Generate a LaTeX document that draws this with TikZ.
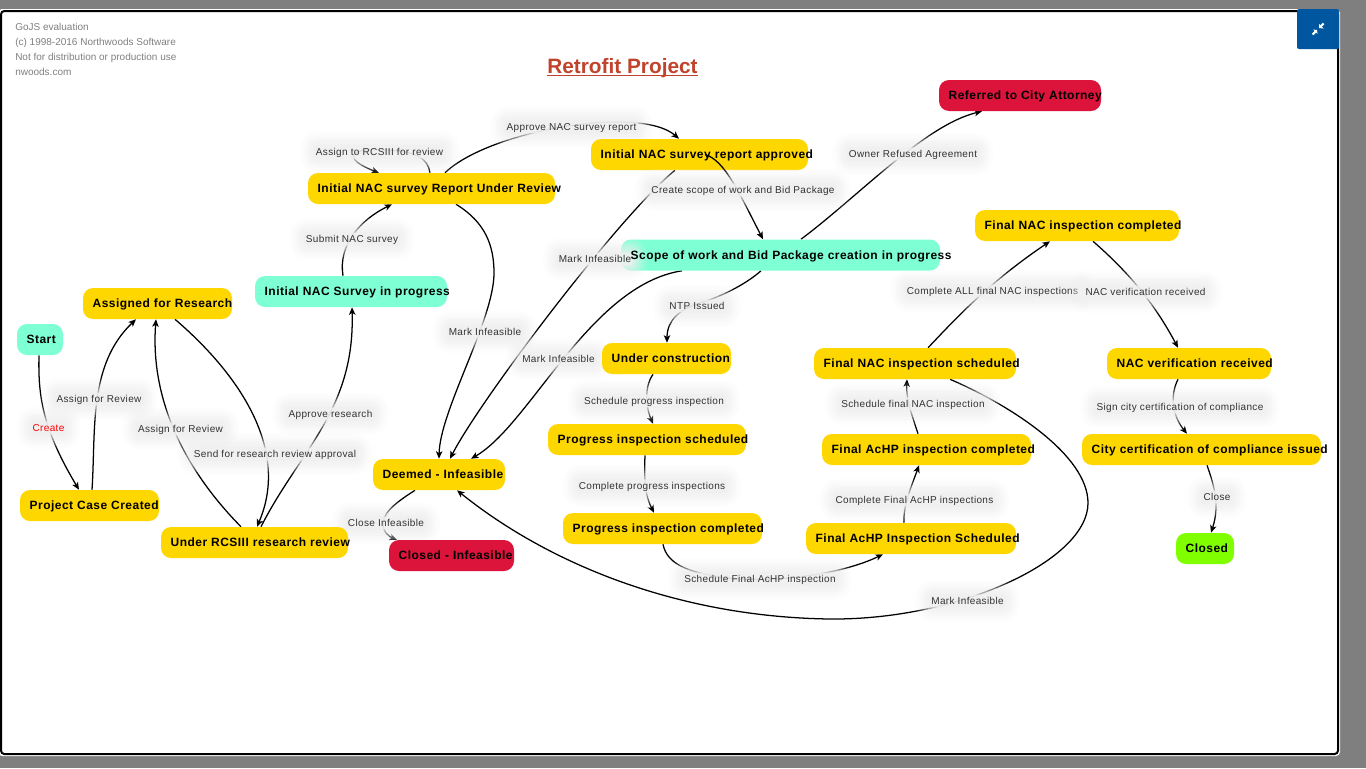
\documentclass[tikz,border=0pt]{standalone}
\usepackage{fontspec}
\setmainfont{Liberation Sans}
\newfontfamily\nodefam[LetterSpace=3.9]{Liberation Sans}
\newfontfamily\lblfam[LetterSpace=3.5]{Liberation Sans}
\usetikzlibrary{arrows.meta}
\pgfdeclarelayer{under}
\pgfsetlayers{under,main}
\definecolor{goldc}{HTML}{FFD700}
\definecolor{aquac}{HTML}{7FFFD4}
\definecolor{crimc}{HTML}{DC143C}
\definecolor{limec}{HTML}{7FFF00}
\definecolor{pagec}{HTML}{7F7F7F}
\definecolor{btnc}{HTML}{01579F}
\definecolor{titlec}{HTML}{C0432B}
\definecolor{markc}{HTML}{808080}
\definecolor{lblc}{HTML}{333333}
\definecolor{glowc}{HTML}{F0F0F0}
\newcommand{\nt}[1]{\leavevmode\hspace*{0.5pt}\rlap{#1}}
\newcommand{\thickul}[1]{\setbox0\hbox{#1}\rlap{\rule[-2.6pt]{\wd0}{1.3pt}}\box0}
\tikzset{
  statebox/.style={rounded corners=7.5pt,minimum height=31*0.75pt,inner sep=0pt,
    font=\nodefam\bfseries\fontsize{9}{10}\selectfont,text=black,
    text height=8pt,text depth=2pt,align=left,
    minimum width=#1*0.75pt,text width=(#1-18)*0.75pt},
  goldbox/.style={statebox=#1,fill=goldc},
  aquabox/.style={statebox=#1,fill=aquac},
  crimbox/.style={statebox=#1,fill=crimc},
  limebox/.style={statebox=#1,fill=limec},
  link/.style={draw=black,line width=0.95pt,-{Stealth[length=5.6pt,width=4.8pt,inset=1.4pt]}},
  gl/.style={fill=glowc,draw=glowc,opacity=#1,line join=round},
  edgelbl/.style={font=\lblfam\fontsize{7.5}{9}\selectfont,text=lblc,inner sep=1pt,
    text height=6.25pt,text depth=1pt,rounded corners=2pt,
    preaction={gl=0.12,line width=22pt},
    preaction={gl=0.15,line width=18pt},
    preaction={gl=0.2,line width=14pt},
    preaction={gl=0.25,line width=10pt},
    preaction={gl=0.3,line width=6pt},
    preaction={gl=0.4,line width=2pt}},
  markline/.style={font=\fontsize{7.5}{9}\selectfont,text=markc,anchor=west,inner sep=0pt,text height=6.25pt,text depth=1pt},
}
\begin{document}
\begin{tikzpicture}[x=0.75pt,y=-0.75pt]
\useasboundingbox (0,0) rectangle (1366,768);

% state nodes
\node[aquabox=46] (start) at (40,339.5) {\nt{Start}};
\node[goldbox=149] (assigned) at (157.5,303.5) {\nt{Assigned for Research}};
\node[goldbox=139] (project) at (89.5,505.5) {\nt{Project Case Created}};
\node[goldbox=187] (rcs) at (254.5,542.5) {\nt{Under RCSIII research review}};
\node[aquabox=192] (survey) at (351,291.5) {\nt{Initial NAC Survey in progress}};
\node[goldbox=247] (report) at (431.5,188.5) {\nt{Initial NAC survey Report Under Review}};
\node[goldbox=217] (approved) at (699.5,154.5) {\nt{Initial NAC survey report approved}};
\node[crimbox=162] (referred) at (1020,95.5) {\nt{Referred to City Attorney}};
\node[aquabox=319] (scope) at (780.5,255) {};
\node[edgelbl] (l10) at (595,259) {Mark Infeasible};
\node[statebox=319] (scopetext) at (scope.center) {\nt{Scope of work and Bid Package creation in progress}};
\node[goldbox=132] (deemed) at (439,474.5) {\nt{Deemed - Infeasible}};
\node[crimbox=125] (closedinf) at (451.5,555.5) {\nt{Closed - Infeasible}};
\node[goldbox=129] (under) at (666.5,358.5) {\nt{Under construction}};
\node[goldbox=198] (psched) at (647,439.5) {\nt{Progress inspection scheduled}};
\node[goldbox=199] (pcomp) at (662.5,528.5) {\nt{Progress inspection completed}};
\node[goldbox=210] (achps) at (911,538.5) {\nt{Final AcHP Inspection Scheduled}};
\node[goldbox=209] (achpc) at (926.5,449.5) {\nt{Final AcHP inspection completed}};
\node[goldbox=202] (nacs) at (915,363.5) {\nt{Final NAC inspection scheduled}};
\node[goldbox=204] (nacc) at (1077,225.5) {\nt{Final NAC inspection completed}};
\node[goldbox=164] (verif) at (1189,363.5) {\nt{NAC verification received}};
\node[goldbox=239] (city) at (1201.5,449.5) {\nt{City certification of compliance issued}};
\node[limebox=58] (closed) at (1205,548.5) {\nt{Closed}};

\begin{pgfonlayer}{under}
\fill[pagec] (0,0) rectangle (1366,768);
\fill[white,rounded corners=3pt] (-2,9) rectangle (1340,756);
\draw[black,line width=1.5pt,rounded corners=2.5pt] (1,11) rectangle (1338,754);

\node[markline] (m1) at (15,27) {GoJS evaluation};
\node[markline] (m2) at (15,42) {(c) 1998-2016 Northwoods Software};
\node[markline] (m3) at (15,57) {Not for distribution or production use};
\node[markline] (m4) at (15,72) {nwoods.com};
\node[font=\bfseries\fontsize{15.6}{18}\selectfont,text=titlec,inner sep=0pt,anchor=base] (title) at (622.5,73) {\thickul{Retrofit Project}};

\node[fill=btnc,rounded corners=1.5pt,minimum width=42*0.75pt,minimum height=40*0.75pt,inner sep=0pt] (button) at (1318,29) {};
\fill[white] (1317,30) -- (1313,29.5) -- (1317.5,34) -- cycle;
\fill[white] (1319,28) -- (1319,24) -- (1323.5,28.5) -- cycle;
\draw[white,line width=1.6pt] (1312.5,34.5) -- (1316,31);
\draw[white,line width=1.6pt] (1323.5,23.5) -- (1320,27);

% connectors
\draw[link] ([shift={(-1,0)}]start.south) .. controls (38,395) and (42,428) .. ([shift={(-10.5,0)}]project.north);
\draw[link] ([shift={(2.5,0)}]project.north) .. controls (96,430) and (88,365) .. ([shift={(-21.5,0)}]assigned.south);
\draw[link] ([shift={(-13.5,0)}]rcs.north) .. controls (185,470) and (150,400) .. ([shift={(-1.5,0)}]assigned.south);
\draw[link] ([shift={(17.5,0)}]assigned.south) .. controls (240,375) and (290,450) .. ([shift={(2.5,0)}]rcs.north);
\draw[link] ([shift={(6.5,0)}]rcs.north) .. controls (300,450) and (355,410) .. ([shift={(1,0)}]survey.south);
\draw[link] ([shift={(-8,0)}]survey.north) .. controls (338,245) and (360,220) .. ([shift={(-39.5,0)}]report.south);
\draw[link] ([shift={(-1.5,0)}]report.north) .. controls (428,158) and (415,151) .. (385,150) .. controls (345,147) and (345,160) .. ([shift={(-52.5,0)}]report.north);
\draw[link] ([shift={(13.5,0)}]report.north) .. controls (490,130) and (640,105) .. ([shift={(-20.5,0)}]approved.north);
\draw[link] ([shift={(24.5,0)}]report.south) .. controls (485,222) and (494,245) .. (494,273) .. controls (494,320) and (440,410) .. (deemed.north);
\draw[link] ([shift={(-24.5,0)}]approved.south) .. controls (620,215) and (480,400) .. ([shift={(11,0)}]deemed.north);
\draw[link] ([shift={(-98.5,0)}]scope.south) .. controls (590,285) and (530,425) .. ([shift={(32,0)}]deemed.north);
\draw[link] ([shift={(20.5,0)}]scope.north) .. controls (860,195) and (925,125) .. ([shift={(-38,0)}]referred.south);
\draw[link] ([shift={(-19.5,0)}]scope.south) .. controls (745,285) and (720,297) .. (700,303) .. controls (680,309) and (667,320) .. ([shift={(0.5,0)}]under.north);
\draw[link] ([shift={(-13.5,0)}]under.south) .. controls (645,385) and (645,405) .. ([shift={(6,0)}]psched.north);
\draw[link] ([shift={(-2,0)}]psched.south) .. controls (644,480) and (645,495) .. ([shift={(-8.5,0)}]pcomp.north);
\draw[link] ([shift={(0.5,0)}]pcomp.south) .. controls (667,565) and (690,572) .. (720,577) .. controls (770,584) and (840,575) .. ([shift={(-28,0)}]achps.south);
\draw[link] ([shift={(-7,0)}]achps.north) .. controls (903,505) and (912,485) .. ([shift={(-7.5,0)}]achpc.south);
\draw[link] ([shift={(-8.5,0)}]achpc.north) .. controls (912,415) and (906,400) .. ([shift={(-8,0)}]nacs.south);
\draw[link] ([shift={(13,0)}]nacs.north) .. controls (950,325) and (985,285) .. ([shift={(-27,0)}]nacc.south);
\draw[link] ([shift={(16,0)}]nacc.south) .. controls (1120,265) and (1150,295) .. ([shift={(-11,0)}]verif.north);
\draw[link] ([shift={(-11,0)}]verif.south) .. controls (1170,395) and (1172,415) .. ([shift={(-14.5,0)}]city.north);
\draw[link] ([shift={(5.5,0)}]city.south) .. controls (1214,485) and (1220,505) .. ([shift={(6,0)}]closed.north);
\draw[link] ([shift={(35,0)}]nacs.south) .. controls (1010,405) and (1088,455) .. (1088,503) .. controls (1088,560) and (960,620) .. (830,619) .. controls (680,617) and (550,565) .. ([shift={(18,0)}]deemed.south);
\draw[link] ([shift={(-24,0)}]deemed.south) .. controls (400,500) and (385,510) .. (383,522) .. controls (382,532) and (390,537) .. ([shift={(-54.5,0)}]closedinf.north);

% connector labels
\node[edgelbl,text=red] (l01) at (48.5,428) {Create};
\node[edgelbl] (l02) at (99,399) {Assign for Review};
\node[edgelbl] (l03) at (180.5,429) {Assign for Review};
\node[edgelbl] (l04) at (275,454) {Send for research review approval};
\node[edgelbl] (l05) at (330.5,414) {Approve research};
\node[edgelbl] (l06) at (352,239) {Submit NAC survey};
\node[edgelbl] (l07) at (379.5,152) {Assign to RCSIII for review};
\node[edgelbl] (l08) at (571.5,127) {Approve NAC survey report};
\node[edgelbl] (l09) at (485,332) {Mark Infeasible};
\node[edgelbl] (l11) at (558.5,359) {Mark Infeasible};
\node[edgelbl] (l12) at (967.5,601) {Mark Infeasible};
\node[edgelbl] (l14) at (913,154) {Owner Refused Agreement};
\node[edgelbl] (l15) at (697,306) {NTP Issued};
\node[edgelbl] (l16) at (654,401) {Schedule progress inspection};
\node[edgelbl] (l17) at (652,486) {Complete progress inspections};
\node[edgelbl] (l18) at (760,579) {Schedule Final AcHP inspection};
\node[edgelbl] (l19) at (914.5,500) {Complete Final AcHP inspections};
\node[edgelbl] (l20) at (913,404) {Schedule final NAC inspection};
\node[edgelbl] (l21) at (992.5,291) {Complete ALL final NAC inspections};
\node[edgelbl] (l22) at (1145.5,292) {NAC verification received};
\node[edgelbl] (l23) at (1180,407) {Sign city certification of compliance};
\node[edgelbl] (l24) at (1217,497) {Close};
\node[edgelbl] (l25) at (386,523) {Close Infeasible};
\end{pgfonlayer}

% this connector starts inside its node, so it lies above the nodes
\draw[link] ([shift={(5.5,0)}]approved.center) .. controls (725,160) and (740,195) .. ([shift={(-17.5,0)}]scope.north);
\node[edgelbl] (l13) at (743,190) {Create scope of work and Bid Package};
\end{tikzpicture}
\end{document}
